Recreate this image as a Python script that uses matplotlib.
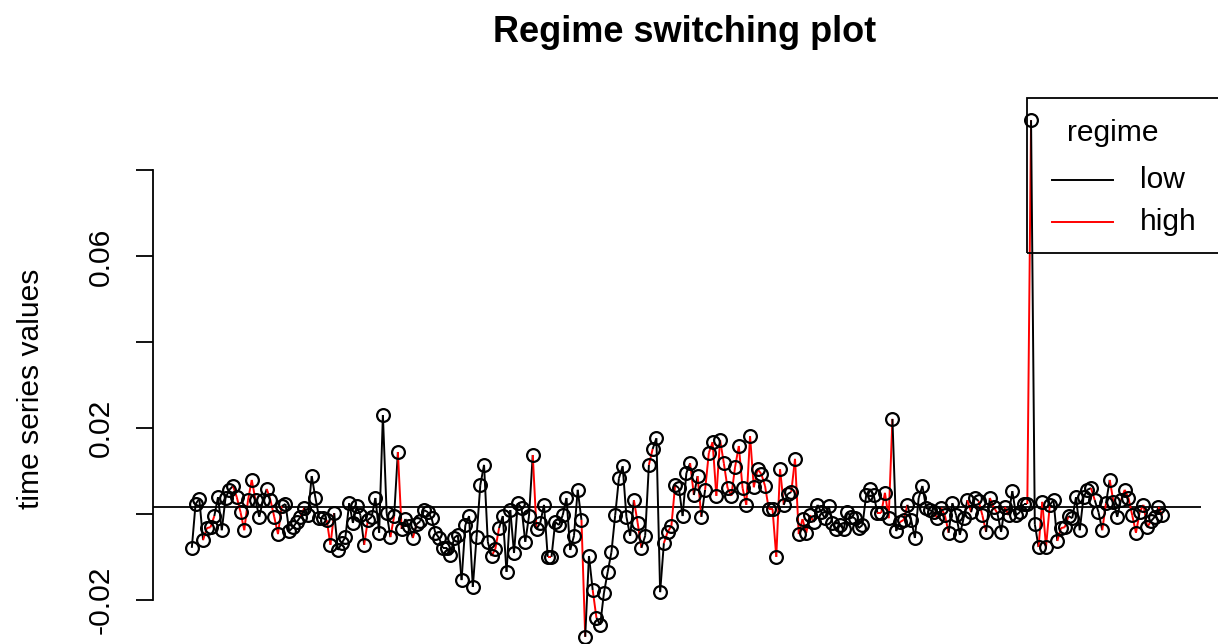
import numpy as np
import matplotlib
matplotlib.use("Agg")
import matplotlib.pyplot as plt
from matplotlib.collections import LineCollection
from matplotlib.patches import Rectangle
from matplotlib.lines import Line2D

plt.rcParams['font.family'] = ['Liberation Sans', 'DejaVu Sans']

# time series values (left to right)
series_values = [
    -0.0078, 0.0024, 0.0036, -0.0060, -0.0032, -0.0030, -0.0004, 0.0040, -0.0037, 0.0038,
    0.0057, 0.0066, 0.0040, 0.0005, -0.0037, 0.0033, 0.0080, 0.0033, -0.0006, 0.0033,
    0.0059, 0.0033, -0.0006, -0.0046, 0.0019, 0.0024, -0.0039, -0.0030, -0.0018, -0.0006,
    0.0015, -0.0002, 0.0089, 0.0038, -0.0009, -0.0009, -0.0013, -0.0071, 0.0003, -0.0083,
    -0.0067,
    -0.0053, 0.0026, -0.0020, 0.0019, -0.0002, -0.0071, -0.0013, -0.0006, 0.0038, -0.0043,
    0.0231, 0.0003, -0.0053,
    -0.0004, 0.0145, -0.0034, -0.0011, -0.0027, -0.0055, -0.0023, -0.0016, 0.0010, 0.0005,
    -0.0009, -0.0043, -0.0055, -0.0078, -0.0078, -0.0095, -0.0055, -0.0048, -0.0153, -0.0025,
    -0.0004, -0.0169, -0.0053, 0.0068, 0.0115, -0.0064, -0.0097, -0.0081, -0.0032,
    -0.0004, -0.0134, 0.0010, -0.0090, 0.0026, 0.0015, -0.0064, -0.0004, 0.0138, -0.0034,
    -0.0020, 0.0022, -0.0099, -0.0099, -0.0018, -0.0025, -0.0002, 0.0038, -0.0083, -0.0050,
    0.0057, -0.0013, -0.0285, -0.0097, -0.0176, -0.0241, -0.0257, -0.0183, -0.0134, -0.0088,
    -0.0002, 0.0084, 0.0112, -0.0006, -0.0050, 0.0033, -0.0020, -0.0078, -0.0050, 0.0115,
    0.0152, 0.0177, -0.0181, -0.0067, -0.0041, -0.0027, 0.0068, 0.0061, -0.0004, 0.0096,
    0.0119, 0.0045, 0.0089, -0.0006, 0.0057, 0.0143, 0.0168,
    0.0043, 0.0173, 0.0119, 0.0061, 0.0043, 0.0110, 0.0159, 0.0061, 0.0022, 0.0182,
    0.0063, 0.0105, 0.0094, 0.0066, 0.0012, 0.0012, -0.0099, 0.0105, 0.0022, 0.0047,
    0.0052, 0.0129, -0.0046, -0.0011, -0.0043, -0.0002, -0.0018, 0.0022,
    0.0005, -0.0009, 0.0019, -0.0020, -0.0034, -0.0025, -0.0034, 0.0005, -0.0006, -0.0009,
    -0.0032, -0.0025, 0.0045, 0.0059, 0.0045, 0.0003, 0.0003, 0.0050, -0.0009, 0.0222,
    -0.0039, -0.0018, -0.0013, 0.0022, -0.0013, -0.0055, 0.0038, 0.0066, 0.0015, 0.0010,
    0.0005, -0.0009,
    0.0015, -0.0002, -0.0043, 0.0026, -0.0002, -0.0048, -0.0009, 0.0033, 0.0005, 0.0038,
    0.0031, -0.0002, -0.0041, 0.0038, 0.0017, 0.0003, -0.0041, 0.0017, -0.0002, 0.0054,
    -0.0002, 0.0005, 0.0024, 0.0024, 0.0917, -0.0023, -0.0076, 0.0029, -0.0076,
    0.0022, 0.0033, -0.0062, -0.0032, -0.0030, -0.0004, -0.0009, 0.0040, -0.0037, 0.0040,
    0.0057, 0.0061, 0.0033, 0.0005, -0.0037, 0.0026, 0.0080, 0.0029, -0.0006, 0.0033,
    0.0057, 0.0038, -0.0002, -0.0043, 0.0005, 0.0022, -0.0030, -0.0016, -0.0006, 0.0017,
    -0.0002,
]

# regime of each observation (0 = low, 1 = high); segment into a point takes its colour
regime = [
    0, 0, 0, 0, 1, 1, 1, 0, 0, 0, 0, 0, 1, 1, 1, 1, 1, 1, 0, 0,
    0, 1, 1, 1, 1, 0, 0, 0, 0, 0, 1, 0, 0, 0, 0, 0, 0, 1, 1, 0, 0,
    0, 0, 0, 0, 0, 0, 1, 0, 0, 0, 0, 0, 0,
    1, 0, 1, 0, 0, 0, 1, 0, 0, 0, 0, 0, 0, 0, 0, 0, 0, 0, 0, 0,
    0, 0, 0, 0, 0, 0, 0, 1, 1,
    0, 0, 0, 0, 0, 0, 0, 0, 0, 1, 0, 0, 0, 1, 0, 0, 0, 0, 0, 0,
    0, 0, 1, 0, 0, 1, 0, 0, 0, 0, 0, 0, 0, 0, 0, 0, 1, 1, 0, 0,
    1, 0, 0, 0, 1, 1, 1, 0, 0, 0, 0, 1, 0, 1, 0, 1, 1,
    1, 1, 1, 1, 1, 1, 1, 1, 1, 1, 1, 1, 1, 1, 1, 1, 1, 1, 1, 0,
    0, 1, 1, 1, 1, 1, 1, 0,
    0, 0, 0, 0, 0, 0, 0, 0, 0, 0, 0, 0, 0, 0, 0, 0, 1, 1, 1, 1,
    0, 0, 1, 1, 0, 0, 0, 0, 0, 0, 0, 1,
    0, 1, 1, 0, 0, 0, 0, 0, 1, 0, 0, 1, 1, 0, 1, 1, 0, 0, 1, 0,
    0, 0, 0, 0, 1, 0, 0, 1, 1,
    1, 0, 0, 1, 1, 1, 0, 0, 0, 0, 0, 0, 1, 0, 0, 1, 0, 1, 0, 0,
    1, 1, 1, 1, 1, 1, 1, 1, 0, 0, 1,
]

regime_labels = ["low", "high"]
regime_colors = ["black", "red"]
mean_level = 0.0018
y_ticks = [-0.02, 0.0, 0.02, 0.04, 0.06, 0.08]
y_tick_labels = ["-0.02", "", "0.02", "", "0.06", ""]

W, H = 1218, 644
fig = plt.figure(figsize=(W / 100, H / 100), dpi=100)

y = np.array(series_values)
x = np.arange(1, len(y) + 1)
n = len(y)

# R-style plot region (4% padding on each side)
ax = fig.add_axes([153 / W, -13.5 / H, 1048 / W, 558 / H])
pad_y = 0.04 * (y.max() - y.min())
ax.set_ylim(y.min() - pad_y, y.max() + pad_y)
pad_x = 0.04 * (n - 1)
ax.set_xlim(1 - pad_x, n + pad_x)

pts = np.column_stack([x, y])
segs = np.stack([pts[:-1], pts[1:]], axis=1)
seg_cols = [regime_colors[r] for r in regime[1:]]
ax.add_collection(LineCollection(segs, colors=seg_cols, linewidths=1.4, zorder=2))
ax.plot(x, y, linestyle='none', marker='o', markersize=9.2, markerfacecolor='none',
        markeredgecolor='black', markeredgewidth=1.6, zorder=3)
ax.axhline(mean_level, color='black', linewidth=1.3, zorder=1)

for s in ['top', 'right', 'bottom']:
    ax.spines[s].set_visible(False)
ax.spines['left'].set_bounds(y_ticks[0], y_ticks[-1])
ax.spines['left'].set_linewidth(1.3)
ax.set_xticks([])
ax.set_yticks(y_ticks)
ax.set_yticklabels(y_tick_labels)
ax.tick_params(axis='y', length=12.5, width=1.3, pad=15, labelsize=21.6, labelrotation=90)
for lab in ax.get_yticklabels():
    lab.set_verticalalignment('center')
ax.patch.set_visible(False)

fig.text(685 / W, 1 - 33 / H, "Regime switching plot", ha='center', va='center',
         fontsize=26, fontweight='bold')
fig.text(31 / W, 1 - 389 / H, "time series values", ha='center', va='center',
         rotation=90, fontsize=21.6)

# legend box, partly cut off at the right edge as in the original
def fx(px):
    return px / W

def fy(py):
    return 1 - py / H

fig.add_artist(Rectangle((fx(1027), fy(253)), fx(1240) - fx(1027), fy(98) - fy(253),
                         fill=False, edgecolor='black', linewidth=1.3,
                         transform=fig.transFigure, clip_on=False))
fig.text(fx(1113), fy(133), "regime", ha='center', va='center', fontsize=21.6)
for k, (lab, col) in enumerate(zip(regime_labels, regime_colors)):
    yy = 180 + k * 42
    fig.add_artist(Line2D([fx(1052), fx(1113)], [fy(yy), fy(yy)], color=col,
                          linewidth=1.4, transform=fig.transFigure))
    fig.text(fx(1140), fy(yy), lab, ha='left', va='center', fontsize=21.6)

fig.savefig("out.png", dpi=100)
